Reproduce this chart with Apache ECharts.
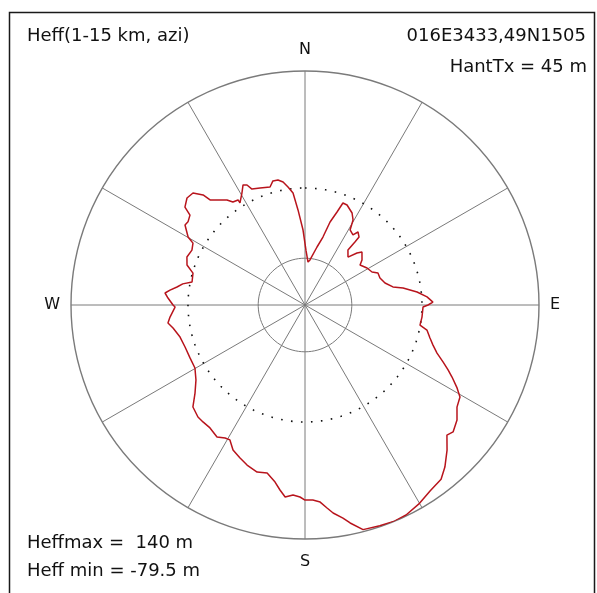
<!DOCTYPE html>
<html>
<head>
<meta charset="utf-8">
<title>Heff(1-15 km, azi)</title>
<script src="https://cdn.jsdelivr.net/npm/echarts@6/dist/echarts.min.js"></script>
<style>
  html, body { margin: 0; padding: 0; background: #ffffff; }
  #chart { width: 597px; height: 593px; }
</style>
</head>
<body>
<div id="chart"></div>
<script>
// Effective antenna height (1-15 km ring) per azimuth, degrees from north, clockwise.
const BEARINGS_DEG = [
  1.0, 4.0, 6.3, 11.7, 14.8, 16.8, 19.0, 20.4, 22.8, 27.1,
  29.5, 31.0, 34.4, 36.0, 38.5, 38.4, 38.0, 41.9, 45.0, 47.1,
  51.7, 54.0, 59.2, 63.8, 66.3, 70.2, 74.6, 78.4, 80.2, 83.4,
  86.2, 88.7, 90.0, 91.0, 95.9, 99.9, 101.6, 104.8, 107.4, 110.0,
  112.4, 114.4, 116.1, 118.6, 120.7, 123.9, 127.1, 130.6, 132.5, 135.6,
  139.2, 142.0, 146.0, 150.0, 154.3, 157.5, 161.3, 165.5, 168.3, 169.9,
  172.3, 173.8, 175.6, 177.7, 180.0, 181.5, 183.6, 185.9, 187.7, 189.6,
  192.7, 196.0, 199.9, 203.0, 206.4, 209.1, 211.0, 213.7, 217.7, 221.1,
  223.7, 227.7, 231.3, 235.5, 240.2, 245.3, 250.7, 255.6, 260.1, 262.5,
  264.9, 269.1, 270.0, 272.9, 274.9, 276.3, 278.0, 279.8, 281.5, 285.9,
  288.7, 292.1, 295.9, 298.9, 300.2, 303.7, 305.4, 308.0, 309.2, 312.2,
  315.0, 317.2, 317.9, 319.4, 323.4, 325.0, 327.5, 327.5, 330.6, 332.7,
  334.2, 335.4, 339.0, 343.5, 345.5, 347.8, 349.9, 351.8, 353.9, 355.8,
  358.5
];
const HEFF_M = [
  -65.8, -79.5, -76.9, -60.9, -48.2, -29.3, -15.9, -3.9, -4.3, -10.2,
  -16.8, -28.4, -31.4, -25.3, -29.2, -36.6, -48.8, -55.0, -44.5, -39.6,
  -45.5, -50.8, -46.0, -43.1, -37.4, -37.4, -33.6, -25.8, -14.6, 0.7,
  11.6, 18.1, 12.4, 6.7, 6.2, 5.2, 14.1, 19.6, 25.2, 32.5,
  42.6, 51.6, 59.2, 70.1, 78.2, 81.5, 90.1, 95.2, 92.3, 104.4,
  117.1, 125.1, 128.5, 134.3, 138.9, 140.0, 139.0, 137.7, 126.9, 119.8,
  112.3, 105.7, 98.2, 95.4, 95.2, 91.8, 89.9, 92.9, 85.6, 77.4,
  69.0, 70.8, 66.7, 62.1, 57.1, 48.5, 49.4, 53.3, 49.6, 49.4,
  49.1, 45.2, 33.0, 23.1, 16.8, 16.5, 17.1, 19.3, 25.0, 29.9,
  26.8, 20.4, 22.7, 28.7, 32.5, 27.1, 19.6, 13.6, 3.5, 4.9,
  14.2, 17.5, 15.5, 18.1, 26.5, 36.8, 36.0, 38.8, 49.1, 54.1,
  53.1, 43.4, 33.8, 30.0, 21.4, 15.5, 14.2, 10.1, 18.7, 26.3,
  24.2, 17.6, 15.2, 12.5, 18.3, 18.0, 14.7, 8.0, 0.4, -19.4,
  -42.8
];

const COMPASS = { 0: 'N', 90: 'E', 180: 'S', 270: 'W' };
const TITLE = 'Heff(1-15 km, azi)';
const SITE = '016E3433,49N1505';
const ANTENNA = 'HantTx = 45 m';
const HEFF_MAX_TEXT = 'Heffmax =  140 m';
const HEFF_MIN_TEXT = 'Heff min = -79.5 m';

// radial scale (metres) mapped from centre to outer ring
const R_MIN = -129;
const R_MAX = 140;

const FONT = 'DejaVu Sans';
const INK = '#111111';

// reference rings at fixed fractions of the radial span
function ringAt(frac) {
  const v = R_MIN + frac * (R_MAX - R_MIN);
  const pts = [];
  for (let a = 0; a <= 360; a += 2) pts.push([v, a]);
  return pts;
}

const heffData = BEARINGS_DEG.map((b, i) => [HEFF_M[i], b]);
heffData.push(heffData[0]);

const chart = echarts.init(document.getElementById('chart'), null, { renderer: 'canvas' });

chart.setOption({
  backgroundColor: '#ffffff',
  animation: false,
  polar: { center: [305, 305], radius: 234 },
  angleAxis: {
    type: 'value',
    min: 0,
    max: 360,
    interval: 30,
    startAngle: 90,
    clockwise: true,
    axisLine: { show: true, lineStyle: { color: '#7a7a7a', width: 1.4 } },
    axisTick: { show: false },
    splitLine: { show: true, lineStyle: { color: '#7a7a7a', width: 1 } },
    axisLabel: {
      show: true,
      margin: 11,
      color: INK,
      fontFamily: FONT,
      fontSize: 16,
      formatter: v => {
        const t = COMPASS[v];
        if (!t) return '';
        if (t === 'N') return '{n|N}';
        if (t === 'S') return '{s|S}';
        return t;
      },
      rich: {
        n: { fontFamily: FONT, fontSize: 16, color: INK, padding: [0, 0, 2, 0] },
        s: { fontFamily: FONT, fontSize: 16, color: INK, padding: [4, 0, 0, 0] }
      }
    }
  },
  radiusAxis: {
    type: 'value',
    min: R_MIN,
    max: R_MAX,
    axisLine: { show: false },
    axisTick: { show: false },
    axisLabel: { show: false },
    splitLine: { show: false }
  },
  series: [
    {
      name: 'inner ring',
      type: 'line',
      coordinateSystem: 'polar',
      data: ringAt(0.2),
      symbol: 'none',
      silent: true,
      lineStyle: { color: '#7a7a7a', width: 1 }
    },
    {
      name: 'dotted ring',
      type: 'line',
      coordinateSystem: 'polar',
      data: ringAt(0.5),
      symbol: 'none',
      silent: true,
      lineStyle: { color: '#111111', width: 1.6, type: [1.6, 8.4] }
    },
    {
      name: 'Heff',
      type: 'line',
      coordinateSystem: 'polar',
      data: heffData,
      symbol: 'none',
      silent: true,
      lineStyle: { color: '#b8141c', width: 1.5 }
    }
  ],
  graphic: [
    {
      type: 'rect',
      shape: { x: 9.5, y: 12.5, width: 585, height: 600 },
      style: { fill: 'none', stroke: '#1a1a1a', lineWidth: 1.5 },
      silent: true
    },
    {
      type: 'text', x: 27, y: 36,
      style: { text: TITLE, font: '18px "' + FONT + '"', fill: INK, textAlign: 'left', textVerticalAlign: 'middle' }
    },
    {
      type: 'text', x: 586, y: 36,
      style: { text: SITE, font: '18px "' + FONT + '"', fill: INK, textAlign: 'right', textVerticalAlign: 'middle' }
    },
    {
      type: 'text', x: 587, y: 67,
      style: { text: ANTENNA, font: '18px "' + FONT + '"', fill: INK, textAlign: 'right', textVerticalAlign: 'middle' }
    },
    {
      type: 'text', x: 27, y: 543,
      style: { text: HEFF_MAX_TEXT, font: '18px "' + FONT + '"', fill: INK, textAlign: 'left', textVerticalAlign: 'middle' }
    },
    {
      type: 'text', x: 27, y: 571,
      style: { text: HEFF_MIN_TEXT, font: '18px "' + FONT + '"', fill: INK, textAlign: 'left', textVerticalAlign: 'middle' }
    }
  ]
});
</script>
</body>
</html>
